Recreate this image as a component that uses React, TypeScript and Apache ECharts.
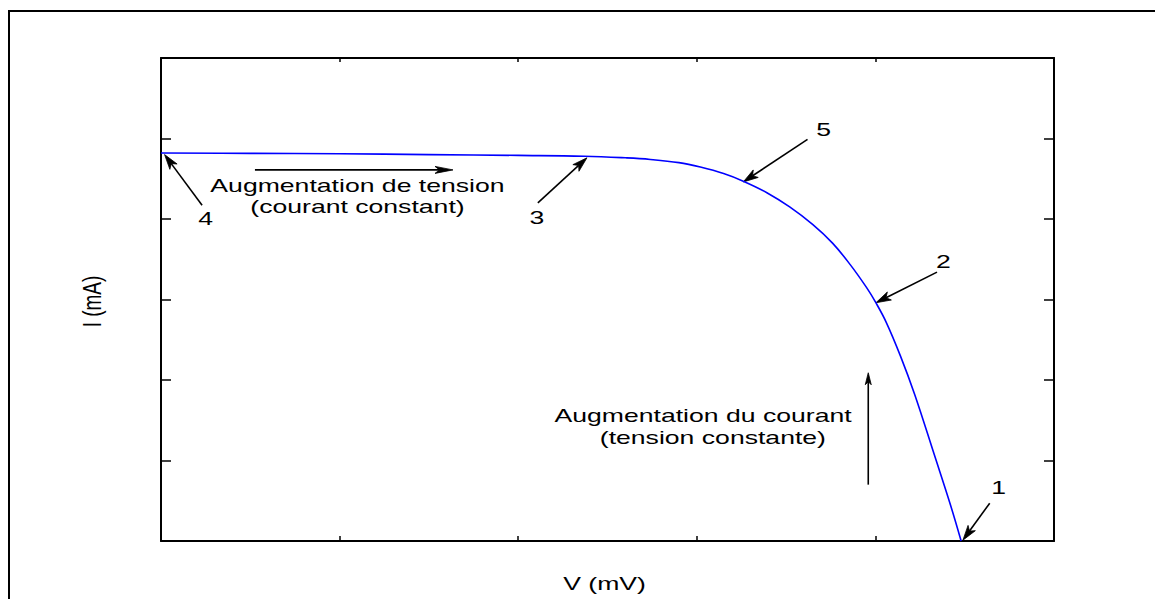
import React, { useEffect, useRef } from "react";
import * as echarts from "echarts";

// I-V curve (V in axis units 0..5, I in axis units 0..6)
const curveV = [0, 0.5, 1.0, 1.5, 2.0, 2.37, 2.6, 2.74, 2.9, 3.02, 3.15, 3.26, 3.39, 3.52, 3.65, 3.76, 3.86, 3.95, 4.0, 4.06, 4.14, 4.22, 4.33, 4.42, 4.48];
const curveI = [4.82, 4.815, 4.81, 4.8, 4.79, 4.78, 4.76, 4.74, 4.7, 4.645, 4.565, 4.47, 4.33, 4.15, 3.93, 3.7, 3.43, 3.15, 2.97, 2.72, 2.3, 1.82, 1.07, 0.45, 0];

// numbered pointers
const pointerLabels = ["4", "3", "5", "2", "1"];
const pointerTail = [[0.23, 4.17], [2.11, 4.2], [3.62, 4.99], [4.345, 3.34], [4.64, 0.47]];
const pointerHead = [[0.02, 4.8], [2.385, 4.76], [3.26, 4.46], [4.003, 2.96], [4.49, 0.01]];
const pointerLabelPos = [[0.25, 4.01], [2.105, 4.02], [3.71, 5.11], [4.38, 3.47], [4.69, 0.66]];

// direction arrows: [from, to]
const hArrow = [[0.526, 4.61], [1.635, 4.61]];
const vArrow = [[3.96, 0.7], [3.96, 2.09]];

// annotation texts
const noteTexts = ["Augmentation de tension", "(courant constant)", "Augmentation du courant", "(tension constante)"];
const notePos = [[1.1, 4.42], [1.1, 4.16], [3.035, 1.565], [3.09, 1.29]];

const xName = "V (mV)";
const yName = "I (mA)";

const FONT = '19px "Liberation Sans", Arial, sans-serif';
const SX = 1.4;

function arrowEls(p0: number[], p1: number[], len: number, wid: number) {
  const dx = p1[0] - p0[0];
  const dy = p1[1] - p0[1];
  const d = Math.hypot(dx, dy) || 1;
  const ux = dx / d, uy = dy / d;
  const nx = -uy, ny = ux;
  const bx = p1[0] - ux * len, by = p1[1] - uy * len;
  const mx = p1[0] - ux * len * 0.75, my = p1[1] - uy * len * 0.75;
  return [
    {
      type: "line",
      shape: { x1: p0[0], y1: p0[1], x2: mx, y2: my },
      style: { stroke: "#000", lineWidth: 1.6 },
      silent: true,
    },
    {
      type: "polygon",
      shape: {
        points: [
          [p1[0], p1[1]],
          [bx + nx * wid / 2, by + ny * wid / 2],
          [mx, my],
          [bx - nx * wid / 2, by - ny * wid / 2],
        ],
      },
      style: { fill: "#000", stroke: "#000", lineWidth: 0.8 },
      silent: true,
    },
  ];
}

export default function App() {
  const ref = useRef<HTMLDivElement>(null);
  useEffect(() => {
    if (!ref.current) return;
    const chart = echarts.init(ref.current, undefined, { renderer: "svg" });
    const axisCommon = {
      type: "value" as const,
      axisLabel: { show: false },
      splitLine: { show: false },
      axisLine: { show: true, onZero: false, lineStyle: { color: "#000", width: 2 } },
    };
    chart.setOption({
      animation: false,
      backgroundColor: "#fff",
      grid: { left: 161, top: 58, right: 101, bottom: 58, containLabel: false },
      xAxis: [
        { ...axisCommon, min: 0, max: 5, interval: 1, position: "bottom", axisTick: { inside: true, length: 5, lineStyle: { color: "#000", width: 1.5 } } },
        { ...axisCommon, min: 0, max: 5, interval: 1, position: "top", axisTick: { inside: true, length: 4, lineStyle: { color: "#000", width: 1.5 } } },
      ],
      yAxis: [
        { ...axisCommon, min: 0, max: 6, interval: 1, position: "left", axisTick: { inside: true, length: 10, lineStyle: { color: "#000", width: 1.5 } } },
        { ...axisCommon, min: 0, max: 6, interval: 1, position: "right", axisTick: { inside: true, length: 10, lineStyle: { color: "#000", width: 1.5 } } },
      ],
      series: [
        {
          type: "line",
          data: curveV.map((v, i) => [v, curveI[i]]),
          showSymbol: false,
          symbol: "none",
          smooth: 0.4,
          lineStyle: { color: "#0000ff", width: 1.6 },
          clip: false,
        },
      ],
    });

    const px = (p: number[]) => chart.convertToPixel({ gridIndex: 0 }, p) as number[];
    const els: any[] = [];
    els.push({
      type: "rect",
      shape: { x: 9, y: 11, width: 1300, height: 800 },
      style: { fill: "none", stroke: "#000", lineWidth: 2 },
      silent: true,
    });
    pointerLabels.forEach((lab, k) => {
      els.push(...arrowEls(px(pointerTail[k]), px(pointerHead[k]), 15, 9));
      const lp = px(pointerLabelPos[k]);
      els.push({
        type: "text",
        x: lp[0],
        y: lp[1],
        scaleX: SX,
        style: { text: lab, font: FONT, fill: "#000", align: "center", verticalAlign: "middle" },
      });
    });
    els.push(...arrowEls(px(hArrow[0]), px(hArrow[1]), 18, 7));
    els.push(...arrowEls(px(vArrow[0]), px(vArrow[1]), 12, 6));
    noteTexts.forEach((t, k) => {
      const p = px(notePos[k]);
      els.push({
        type: "text",
        x: p[0],
        y: p[1],
        scaleX: SX,
        style: { text: t, font: FONT, fill: "#000", align: "center", verticalAlign: "middle" },
      });
    });
    const xl = px([2.5, 0]);
    els.push({
      type: "text",
      x: xl[0] - 3,
      y: 583,
      scaleX: SX,
      style: { text: xName, font: FONT, fill: "#000", align: "center", verticalAlign: "middle" },
    });
    const yl = px([0, 3]);
    els.push({
      type: "text",
      x: 92,
      y: yl[1] + 2,
      rotation: Math.PI / 2,
      scaleY: SX,
      style: { text: yName, font: FONT, fill: "#000", align: "center", verticalAlign: "middle" },
    });
    chart.setOption({ graphic: { elements: els } });
    return () => chart.dispose();
  }, []);
  return (
    <div
      ref={ref}
      style={{ position: "fixed", left: 0, top: 0, width: 1155, height: 599 }}
    />
  );
}
